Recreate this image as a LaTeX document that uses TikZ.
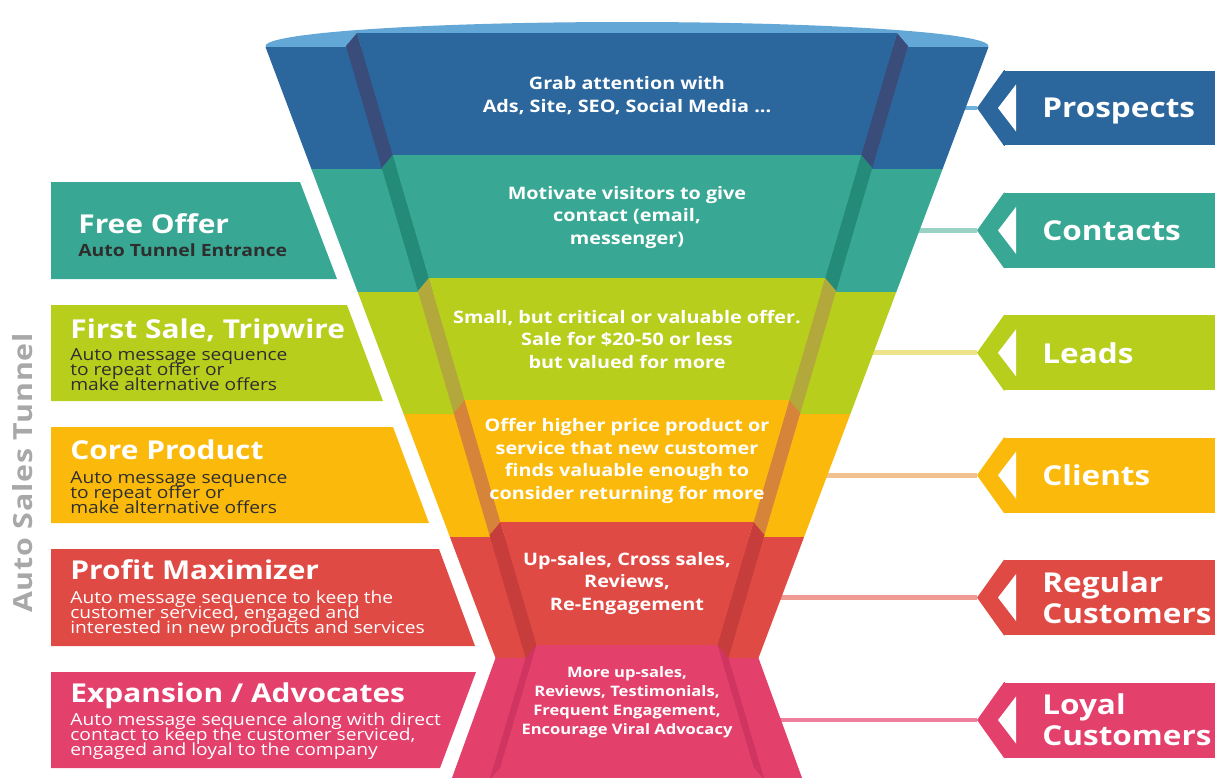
\documentclass[tikz,border=0pt]{standalone}
\usepackage{xcolor}
\usepackage{fontspec}
\setmainfont{Open Sans}[FakeStretch=1.15]
\newfontfamily\spacedfont{Open Sans}[FakeStretch=1.15, LetterSpace=3]
\usetikzlibrary{positioning}

\definecolor{funRim}{HTML}{63A7D7}
\definecolor{funBlue}{HTML}{2B669C}
\definecolor{funBlueEdge}{HTML}{3A4C7A}
\definecolor{funBlueLine}{HTML}{70B0DD}
\definecolor{funTeal}{HTML}{38A894}
\definecolor{funTealEdge}{HTML}{238B77}
\definecolor{funTealLine}{HTML}{9AD3C6}
\definecolor{funLime}{HTML}{B8CE1C}
\definecolor{funLimeEdge}{HTML}{B3A83B}
\definecolor{funLimeLine}{HTML}{ECE38B}
\definecolor{funGold}{HTML}{FBBA0B}
\definecolor{funGoldEdge}{HTML}{D6843A}
\definecolor{funGoldLine}{HTML}{F1C28F}
\definecolor{funRed}{HTML}{E04A45}
\definecolor{funRedEdge}{HTML}{C63D3B}
\definecolor{funRedLine}{HTML}{EF9B94}
\definecolor{funPink}{HTML}{E3406C}
\definecolor{funPinkEdge}{HTML}{D03460}
\definecolor{funPinkLine}{HTML}{EF7F9C}
\definecolor{txtDark}{HTML}{2E2E2E}
\definecolor{tunnelGray}{HTML}{A8A8A8}

% tight small print in the tunnel boxes
\newcommand\notefont{\fontsize{9.5}{8.5}\selectfont\lineskiplimit=-10pt\relax}

\begin{document}
\begin{tikzpicture}[
  x=0.02cm, y=-0.02cm,
  every node/.style = {inner sep=0pt},
  % multi-line texts sit on the baseline of their last line
  stagetext/.style  = {text=white, align=center, anchor=base,
                       font=\bfseries\fontsize{9.8}{12.75}\selectfont},
  boxtitle/.style   = {text=white, anchor=base west,
                       font=\bfseries\fontsize{14.8}{17}\selectfont},
  boxnote/.style    = {text=#1, anchor=base west, align=left, font=\notefont},
  tag/.style        = {fill=#1, text=white, anchor=west, align=left,
                       minimum height=1.5cm, text width=4cm, inner xsep=0.76cm,
                       font=\bfseries\fontsize{15.6}{17.6}\selectfont},
  link/.style       = {draw=#1, line width=2.8pt}
]
\useasboundingbox (0,0) rectangle (1215,778);

% --- stage labels on the right ---
\node[tag=funBlue, text depth=0pt] (prospects) at (1004,108)   {Prospects};
\node[tag=funTeal, text depth=0pt] (contacts)  at (1004,230.4) {Contacts};
\node[tag=funLime, text depth=0pt] (leads)     at (1004,352.8) {Leads};
\node[tag=funGold, text depth=0pt] (clients)   at (1004,475.2) {Clients};
\node[tag=funRed]  (regular)   at (1004,597.6) {Regular\\Customers};
\node[tag=funPink] (loyal)     at (1004,720)   {Loyal\\Customers};

\coordinate (prospects-in) at (958,108);
\coordinate (contacts-in)  at (912,230.4);
\coordinate (leads-in)     at (866,352.8);
\coordinate (clients-in)   at (820,475.2);
\coordinate (regular-in)   at (774,597.6);
\coordinate (loyal-in)     at (774,720);

% pointer, notch and link of every label
\foreach \t/\col in {prospects/funBlue, contacts/funTeal, leads/funLime,
                     clients/funGold, regular/funRed, loyal/funPink} {
  \fill[\col] ([xshift=0.5pt]\t.north west) -- (\t.north west)
    -- ([xshift=-0.54cm]\t.west) -- (\t.south west)
    -- ([xshift=0.5pt]\t.south west) -- cycle;
  \fill[white] ([xshift=-0.12cm]\t.west)
    -- ([xshift=0.24cm, yshift=0.47cm]\t.west)
    -- ([xshift=0.24cm, yshift=-0.47cm]\t.west) -- cycle;
  \draw[link=\col Line] (\t-in) -- ([xshift=-0.54cm]\t.west);
}

% --- funnel ---
\fill[funRim] (627,46) ellipse [x radius=7.23cm, y radius=0.48cm];

% outer side, bevels, front panel of each stage
\foreach \yt/\yb/\wt/\wb/\ft/\fb/\vt/\vb/\col in {
    47/169/361.5/315.6/33/155/270/234.2/funBlue,
    169/292/315.6/269.3/155/278/234.2/198.1/funTeal,
    292/414/269.3/223.4/278/400/198.1/162.3/funLime,
    414/537/223.4/177.1/400/522/162.3/126.5/funGold,
    537/658/177.1/131.5/522/645/126.5/90.4/funRed,
    658/790/131.5/179.4/645/767/90.4/126.5/funPink} {
  \fill[\col] (627-\wt,\yt) -- (627+\wt,\yt) -- (627+\wb,\yb) -- (627-\wb,\yb) -- cycle;
  \fill[\col Edge] (627-\vt,\ft) -- (627-\vb,\fb) -- (616-\vb,\fb+13) -- (616-\vt,\ft+13) -- cycle;
  \fill[\col Edge] (627+\vt,\ft) -- (627+\vb,\fb) -- (638+\vb,\fb+13) -- (638+\vt,\ft+13) -- cycle;
  \fill[\col] (627-\vt,\ft) -- (627+\vt,\ft) -- (627+\vb,\fb) -- (627-\vb,\fb) -- cycle;
}

\node[stagetext] (attention) at (627,112) {Grab attention with\\Ads, Site, SEO, Social Media ...};
\node[stagetext] (motivate)  at (627,244) {Motivate visitors to give\\contact (email,\\messenger)};
\node[stagetext] (small)     at (627,368) {Small, but critical or valuable offer.\\Sale for \$20-50 or less\\but valued for more};
\node[stagetext] (higher)    at (627,499) {Offer higher price product or\\service that new customer\\finds valuable enough to\\consider returning for more};
\node[stagetext] (upsales)   at (627,610) {Up-sales, Cross sales,\\Reviews,\\Re-Engagement};
\node[stagetext, font=\bfseries\fontsize{8.2}{10.8}\selectfont]
                 (moreups)   at (627,734) {More up-sales,\\Reviews, Testimonials,\\Frequent Engagement,\\Encourage Viral Advocacy};

% --- tunnel steps on the left ---
\fill[funTeal] (51,182) -- (300,182) -- (337,279) -- (51,279) -- cycle;
\node[boxtitle] (offer) at (78,233) {Free Offer};
\node[boxnote=txtDark, font=\bfseries\fontsize{9.6}{11}\selectfont]
      (offer-note) at (78,256) {Auto Tunnel Entrance};

\fill[funLime] (51,305) -- (347,305) -- (383,401) -- (51,401) -- cycle;
\node[boxtitle] (tripwire) at (70,338) {First Sale, Tripwire};
\node[boxnote=txtDark] (tripwire-note) at (70,390)
      {Auto message sequence\\to repeat offer or\\make alternative offers};

\fill[funGold] (51,427) -- (393,427) -- (429,523) -- (51,523) -- cycle;
\node[boxtitle] (core) at (70,459) {Core Product};
\node[boxnote=txtDark] (core-note) at (70,513)
      {Auto message sequence\\to repeat offer or\\make alternative offers};

\fill[funRed] (51,549) -- (439,549) -- (475,646) -- (51,646) -- cycle;
\node[boxtitle] (profit) at (70,579) {Profit Maximizer};
\node[boxnote=white] (profit-note) at (70,633)
      {Auto message sequence to keep the\\customer serviced, engaged and\\interested in new products and services};

\fill[funPink] (51,672) -- (476,672) -- (440,768) -- (51,768) -- cycle;
\node[boxtitle] (expansion) at (70,702) {Expansion / Advocates};
\node[boxnote=white] (expansion-note) at (70,755)
      {Auto message sequence along with direct\\contact to keep the customer serviced,\\engaged and loyal to the company};

\node[rotate=90, text=tunnelGray, font=\spacedfont\bfseries\fontsize{15}{18}\selectfont]
      (tunnel) at (23,473) {Auto Sales Tunnel};

\end{tikzpicture}
\end{document}
